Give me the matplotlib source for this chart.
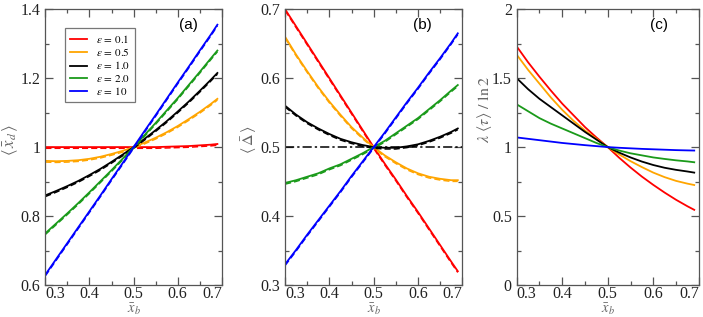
import numpy as np
import matplotlib.pyplot as plt
import matplotlib.transforms as mtransforms
from matplotlib.ticker import MultipleLocator, FormatStrFormatter, FuncFormatter

plt.rcParams['font.family'] = ['Liberation Serif', 'DejaVu Serif']
plt.rcParams['mathtext.fontset'] = 'stix'

xb = [0.3, 0.325, 0.35, 0.375, 0.4, 0.425, 0.45, 0.475, 0.5,
      0.525, 0.55, 0.575, 0.6, 0.625, 0.65, 0.675, 0.69]
eps_labels = [r'$\epsilon\,=\,0.1$', r'$\epsilon\,=\,0.5$', r'$\epsilon\,=\,1.0$',
              r'$\epsilon\,=\,2.0$', r'$\epsilon\,=\,10$']
colors = ['#ff0000', '#ffa500', '#000000', '#1a9a1a', '#0000ff']

# (a) mean division size
xd_01 = [1.0, 1.0, 1.0, 1.0, 1.0, 1.0, 1.0, 1.0, 1.0, 1.0, 1.0, 1.001, 1.002, 1.003, 1.005, 1.007, 1.009]
xd_05 = [0.960, 0.959, 0.960, 0.962, 0.966, 0.972, 0.980, 0.989, 1.0, 1.013, 1.027, 1.043, 1.061, 1.081, 1.102, 1.125, 1.140]
xd_1 = [0.860, 0.873, 0.887, 0.902, 0.919, 0.937, 0.957, 0.978, 1.0, 1.024, 1.049, 1.075, 1.103, 1.132, 1.163, 1.195, 1.215]
xd_2 = [0.750, 0.779, 0.808, 0.838, 0.869, 0.901, 0.933, 0.966, 1.0, 1.035, 1.070, 1.106, 1.142, 1.180, 1.218, 1.257, 1.280]
xd_10 = [0.630, 0.676, 0.722, 0.768, 0.814, 0.860, 0.907, 0.953, 1.0, 1.047, 1.093, 1.140, 1.187, 1.233, 1.280, 1.326, 1.355]

# (b) mean added size
dl_01 = [0.700, 0.675, 0.650, 0.625, 0.600, 0.575, 0.550, 0.525, 0.500, 0.476, 0.453, 0.429, 0.406, 0.382, 0.358, 0.334, 0.320]
dl_05 = [0.660, 0.634, 0.610, 0.587, 0.566, 0.547, 0.529, 0.514, 0.500, 0.488, 0.478, 0.469, 0.462, 0.457, 0.454, 0.452, 0.452]
dl_1 = [0.560, 0.547, 0.536, 0.527, 0.519, 0.512, 0.507, 0.503, 0.500, 0.499, 0.499, 0.501, 0.504, 0.509, 0.515, 0.522, 0.527]
dl_2 = [0.448, 0.452, 0.457, 0.462, 0.469, 0.475, 0.483, 0.491, 0.500, 0.509, 0.520, 0.531, 0.542, 0.555, 0.568, 0.582, 0.590]
dl_10 = [0.330, 0.351, 0.373, 0.394, 0.415, 0.436, 0.458, 0.479, 0.500, 0.521, 0.543, 0.565, 0.586, 0.608, 0.629, 0.651, 0.665]

# (c) mean generation time
tau_01 = [1.73, 1.615, 1.51, 1.41, 1.315, 1.23, 1.145, 1.07, 1.0, 0.923, 0.852, 0.786, 0.726, 0.670, 0.618, 0.571, 0.545]
tau_05 = [1.67, 1.56, 1.46, 1.36, 1.27, 1.19, 1.12, 1.06, 1.0, 0.947, 0.898, 0.855, 0.815, 0.782, 0.755, 0.735, 0.725]
tau_1 = [1.50, 1.42, 1.35, 1.29, 1.23, 1.17, 1.11, 1.055, 1.0, 0.96, 0.925, 0.895, 0.87, 0.85, 0.835, 0.823, 0.815]
tau_2 = [1.31, 1.26, 1.21, 1.17, 1.135, 1.10, 1.065, 1.03, 1.0, 0.975, 0.955, 0.94, 0.925, 0.914, 0.904, 0.896, 0.89]
tau_10 = [1.07, 1.06, 1.05, 1.04, 1.03, 1.022, 1.014, 1.007, 1.0, 0.995, 0.991, 0.987, 0.984, 0.981, 0.978, 0.976, 0.975]

fig = plt.figure(figsize=(7.03, 3.17), dpi=100)
ax_a = fig.add_axes([0.0645, 0.101, 0.251, 0.870])
ax_b = fig.add_axes([0.4055, 0.101, 0.252, 0.870])
ax_c = fig.add_axes([0.735, 0.101, 0.259, 0.870])

spine_col = '#555555'
label_col = '#666666'


def style(ax, ylim, major, minor, fmt):
    ax.set_xlim(0.3, 0.7)
    ax.set_ylim(*ylim)
    ax.xaxis.set_major_locator(MultipleLocator(0.1))
    ax.xaxis.set_minor_locator(MultipleLocator(0.05))
    ax.yaxis.set_major_locator(MultipleLocator(major))
    ax.yaxis.set_minor_locator(MultipleLocator(minor))
    ax.xaxis.set_major_formatter(FormatStrFormatter('%g'))
    ax.yaxis.set_major_formatter(FuncFormatter(fmt))
    ax.tick_params(which='both', direction='in', top=True, right=True,
                   color=spine_col, labelsize=11.5, labelcolor='#222222')
    ax.tick_params(which='major', length=6, width=0.9)
    ax.tick_params(which='minor', length=3, width=0.9)
    ax.tick_params(axis='x', pad=1)
    for s in ax.spines.values():
        s.set_color(spine_col)
        s.set_linewidth(0.9)
    ax.set_xlabel(r'$\bar{x}_b$', fontsize=10.5, color=label_col, va='center')
    ax.xaxis.set_label_coords(0.5, -0.089)
    fig.canvas.draw()
    # end labels sit inside the frame, as in the original
    for t in ax.xaxis.get_major_ticks():
        if abs(t.get_loc() - 0.3) < 1e-6:
            t.label1.set_ha('left')
        elif abs(t.get_loc() - 0.7) < 1e-6:
            t.label1.set_ha('right')


gfmt = lambda v, p: '%g' % round(v, 3)

dash_off = mtransforms.offset_copy(ax_a.transData, fig=fig, y=-1.2, units='dots')
for ys, c, lab in zip([xd_01, xd_05, xd_1, xd_2, xd_10], colors, eps_labels):
    ax_a.plot(xb, ys, color=c, lw=1.3, label=lab)
    ax_a.plot(xb, ys, color=c, lw=1.1, ls=(0, (4, 2)), transform=dash_off)
style(ax_a, (0.6, 1.4), 0.2, 0.1, gfmt)
ax_a.set_ylabel(r'$\langle\,\bar{x}_d\,\rangle$', fontsize=12, color=label_col, va='center')
ax_a.yaxis.set_label_coords(-0.2, 0.526)
leg = ax_a.legend(loc='upper left', bbox_to_anchor=(0.113, 0.931), fontsize=8,
                  frameon=True, fancybox=False, edgecolor=spine_col,
                  handlelength=1.5, handletextpad=0.8, borderpad=0.45,
                  labelspacing=0.1, borderaxespad=0)
leg.get_frame().set_linewidth(0.9)
ax_a.text(0.864, 0.943, '(a)', transform=ax_a.transAxes, fontsize=11,
          family='Liberation Sans', ha='right', va='center')

dash_off_b = mtransforms.offset_copy(ax_b.transData, fig=fig, y=-1.2, units='dots')
ax_b.axhline(0.5, color='black', lw=1.1, ls=(0, (6, 2, 1.5, 2)))
for ys, c in zip([dl_01, dl_05, dl_1, dl_2, dl_10], colors):
    ax_b.plot(xb, ys, color=c, lw=1.3)
    ax_b.plot(xb, ys, color=c, lw=1.1, ls=(0, (4, 2)), transform=dash_off_b)
style(ax_b, (0.3, 0.7), 0.1, 0.05, gfmt)
ax_b.set_ylabel(r'$\left\langle\,\bar{\Delta}\,\right\rangle$', fontsize=11.5, color=label_col, va='center')
ax_b.yaxis.set_label_coords(-0.205, 0.526)
ax_b.text(0.83, 0.943, '(b)', transform=ax_b.transAxes, fontsize=11,
          family='Liberation Sans', ha='right', va='center')

for ys, c in zip([tau_01, tau_05, tau_1, tau_2, tau_10], colors):
    ax_c.plot(xb, ys, color=c, lw=1.3)
style(ax_c, (0, 2), 0.5, 0.25, gfmt)
ax_c.set_ylabel(r'$\lambda\ \langle\tau\rangle\ /\ \ln 2$', fontsize=11.5, color=label_col, va='center')
ax_c.yaxis.set_label_coords(-0.178, 0.635)
ax_c.text(0.83, 0.943, '(c)', transform=ax_c.transAxes, fontsize=11,
          family='Liberation Sans', ha='right', va='center')

plt.savefig('out.png', dpi=100)
plt.close()
